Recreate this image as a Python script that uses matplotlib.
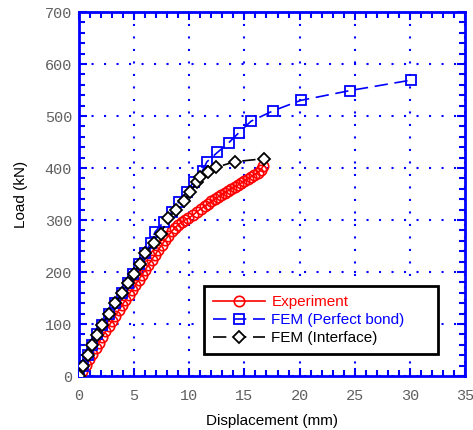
import matplotlib
matplotlib.use("Agg")
import matplotlib.pyplot as plt
from matplotlib.ticker import MultipleLocator

# Experiment (red circles)
exp_x = [0, 0.3, 0.6, 0.9, 1.2, 1.5, 1.8, 2.1, 2.4, 2.7, 3.0, 3.3, 3.6, 3.9, 4.2, 4.5,
         4.8, 5.1, 5.4, 5.7, 6.0, 6.3, 6.6, 6.9, 7.2, 7.5, 7.8, 8.1, 8.4, 8.7, 9.0, 9.3,
         9.6, 9.9, 10.3, 10.7, 11.1, 11.4, 11.7, 12.0, 12.3, 12.6, 12.9, 13.2, 13.5,
         13.8, 14.1, 14.4, 14.7, 15.0, 15.3, 15.6, 15.9, 16.2, 16.5, 16.7]
exp_y = [0, 10, 21, 32, 43, 54, 64, 75, 86, 96, 106, 116, 126, 136, 146, 156,
         166, 175, 185, 194, 204, 214, 224, 233, 243, 252, 261, 270, 278, 285, 291, 296,
         300, 303, 309, 316, 322, 327, 331, 336, 340, 344, 348, 352, 356,
         360, 364, 367, 371, 375, 379, 383, 387, 391, 397, 404]

# FEM (Perfect bond) (blue squares)
pb_x = [0, 0.4, 0.85, 1.2, 1.6, 2.1, 2.7, 3.3, 3.9, 4.4, 4.9, 5.4, 6.0, 6.5, 6.9,
        7.7, 8.45, 9.05, 9.8, 10.4, 11.2, 11.6, 12.55, 13.6, 14.5, 15.6, 17.6,
        20.1, 24.6, 30.1]
pb_y = [0, 20, 40, 60, 80, 99, 120, 140, 159, 178, 197, 216, 236, 256, 277,
        297, 316, 335, 354, 374, 395, 412, 430, 449, 468, 490, 510,
        530, 549, 569]

# FEM (Interface) (black diamonds)
if_x = [0, 0.4, 0.85, 1.15, 1.6, 2.1, 2.7, 3.3, 3.9, 4.4, 5.0, 5.5, 6.0, 6.8, 7.4,
        8.1, 8.75, 9.5, 10.1, 10.7, 11.0, 11.7, 12.4, 14.1, 16.8]
if_y = [0, 20, 40, 60, 79, 98, 120, 140, 159, 178, 197, 216, 236, 256, 274,
        303, 319, 336, 354, 374, 383, 393, 401, 412, 418]

labels = ["Experiment", "FEM (Perfect bond)", "FEM (Interface)"]
x_label = "Displacement (mm)"
y_label = "Load (kN)"

BLUE = "#0000ff"
RED = "#ff0000"

fig = plt.figure(figsize=(4.73, 4.30), dpi=100)
ax = fig.add_axes([79/473, 1-376/430, (465-79)/473, (376-12)/430])

ax.plot(exp_x, exp_y, color=RED, lw=1.2, marker="o", ms=7.5, mfc="none",
        mec=RED, mew=1.2, label=labels[0], zorder=3)
ax.plot(pb_x, pb_y, color=BLUE, lw=1.2, ls=(0, (8, 4)), marker="s", ms=7.5,
        mfc="none", mec=BLUE, mew=1.3, label=labels[1], zorder=4)
ax.plot(if_x, if_y, color="black", lw=1.2, ls=(0, (8, 4)), marker="D", ms=6,
        mfc="white", mec="black", mew=1.3, label=labels[2], zorder=5)

ax.set_xlim(0, 35)
ax.set_ylim(0, 700)
ax.xaxis.set_major_locator(MultipleLocator(5))
ax.xaxis.set_minor_locator(MultipleLocator(1))
ax.yaxis.set_major_locator(MultipleLocator(100))
ax.yaxis.set_minor_locator(MultipleLocator(20))

for s in ax.spines.values():
    s.set_color(BLUE)
    s.set_linewidth(2)

ax.tick_params(which="both", direction="in", top=True, right=True, color=BLUE,
               labelcolor="#606060")
ax.tick_params(which="major", length=6, width=1.5)
ax.tick_params(which="minor", length=4, width=1.5)
ax.tick_params(axis="x", which="major", pad=9)
ax.tick_params(axis="y", which="major", pad=5)
for lab in ax.get_xticklabels() + ax.get_yticklabels():
    lab.set_fontfamily("Liberation Mono")
    lab.set_fontsize(11)

ax.grid(True, which="major", color=BLUE, ls=(0, (1, 5)), lw=1.5)
ax.set_axisbelow(True)

ax.set_xlabel(x_label, fontsize=11, fontfamily="Liberation Sans", labelpad=8)
ax.set_ylabel(y_label, fontsize=11, fontfamily="Liberation Sans", labelpad=12)

leg = ax.legend(loc="center", bbox_to_anchor=(0.324, 0.051, 0.606, 0.205),
                mode="expand", fancybox=False, framealpha=1, edgecolor="black",
                prop={"family": "Liberation Sans", "size": 11},
                handlelength=3.4, handletextpad=0.4, labelspacing=0.25,
                borderpad=0.6, borderaxespad=0)
leg.get_frame().set_linewidth(2)
for t, c in zip(leg.get_texts(), [RED, BLUE, "black"]):
    t.set_color(c)

fig.savefig("out.png", dpi=100)
